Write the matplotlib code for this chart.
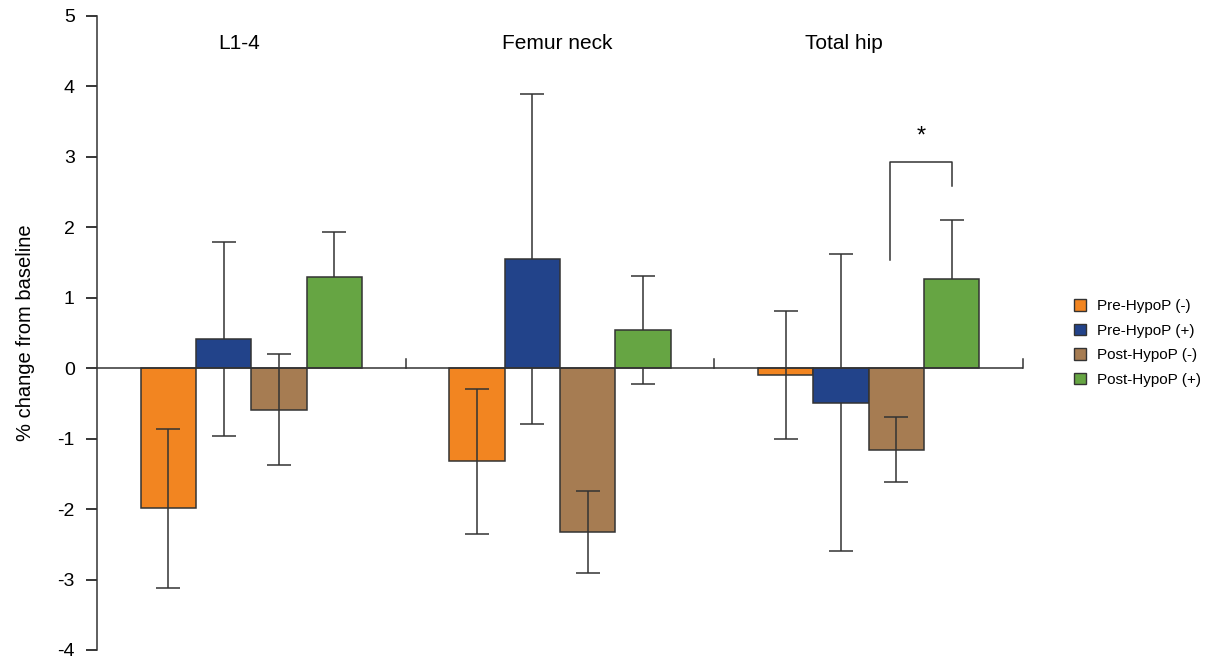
import matplotlib
matplotlib.use("Agg")
import matplotlib.pyplot as plt
import numpy as np
from matplotlib import font_manager

# ---- data ----
sites = ["L1-4", "Femur neck", "Total hip"]
series = ["Pre-HypoP (-)", "Pre-HypoP (+)", "Post-HypoP (-)", "Post-HypoP (+)"]
pre_neg = [-1.99, -1.32, -0.10]
pre_pos = [0.41, 1.55, -0.49]
post_neg = [-0.59, -2.33, -1.16]
post_pos = [1.29, 0.54, 1.26]
pre_neg_sd = [1.13, 1.03, 0.91]
pre_pos_sd = [1.38, 2.34, 2.11]
post_neg_sd = [0.79, 0.58, 0.46]
post_pos_sd = [0.64, 0.77, 0.84]
colors = ["#F28521", "#22438A", "#A67C52", "#66A543"]
yticks = [-4, -3, -2, -1, 0, 1, 2, 3, 4, 5]

values = [pre_neg, pre_pos, post_neg, post_pos]
sds = [pre_neg_sd, pre_pos_sd, post_neg_sd, post_pos_sd]

# font
avail = {f.name for f in font_manager.fontManager.ttflist}
fam = "Liberation Sans Narrow" if "Liberation Sans Narrow" in avail else "Liberation Sans"
plt.rcParams['font.family'] = [fam, 'DejaVu Sans']

fig = plt.figure(figsize=(12.08, 6.6), dpi=100)
ax = fig.add_axes([97/1208, 1-650/660, (1023-97)/1208, (650-15.7)/660])

x = np.arange(len(sites)) + 0.5
w = 0.179
offsets = np.array([-1.5, -0.5, 0.5, 1.5]) * w

for i in range(4):
    front = i in (0, 2)
    ax.bar(x + offsets[i], values[i], width=w, color=colors[i], edgecolor="#333333",
           linewidth=1.1, zorder=3, label=series[i])
    ax.errorbar(x + offsets[i], values[i], yerr=sds[i], fmt="none", ecolor="#333333",
                elinewidth=1.1, capsize=8.5, capthick=1.1, zorder=4 if front else 2)

ax.set_xlim(0, 3)
ax.set_ylim(-4, 5)
ax.set_yticks(yticks)
ax.set_yticklabels([str(t) for t in yticks], fontsize=14)
ax.tick_params(axis="y", direction="out", length=8, width=1.1, pad=8)
for s in ["top", "right", "bottom"]:
    ax.spines[s].set_visible(False)
ax.spines["left"].set_linewidth(1.1)
ax.spines["left"].set_color("#333333")

# zero axis line with category separator ticks
ax.axhline(0, color="#333333", lw=1.1, zorder=5)
ax.set_xticks([])
for b in [1, 2, 3]:
    ax.plot([b, b], [0, 0.13], color="#333333", lw=1.1, zorder=5, clip_on=False)

# category labels
label_x = [0.46, 1.49, 2.42]
for lx, s in zip(label_x, sites):
    ax.text(lx, 4.6, s, ha="center", va="center", fontsize=15)

ax.set_ylabel("% change from baseline", fontsize=14.5, labelpad=16)

# significance bracket on Total hip
xl = x[2] + offsets[2] - 0.02
xr = x[2] + offsets[3]
ax.plot([xl, xl, xr, xr], [1.53, 2.93, 2.93, 2.58], color="#333333", lw=1.1, zorder=5)
ax.text((xl + xr) / 2, 3.28, "*", ha="center", va="center", fontsize=17)

leg = fig.legend(loc="center left", bbox_to_anchor=(1060/1208, 1-343/660), frameon=False,
                 fontsize=11, handlelength=0.8, handleheight=0.8, handletextpad=0.7,
                 labelspacing=0.68)
for h in leg.legend_handles:
    h.set_linewidth(1.0)

fig.savefig("out.png", dpi=100)
